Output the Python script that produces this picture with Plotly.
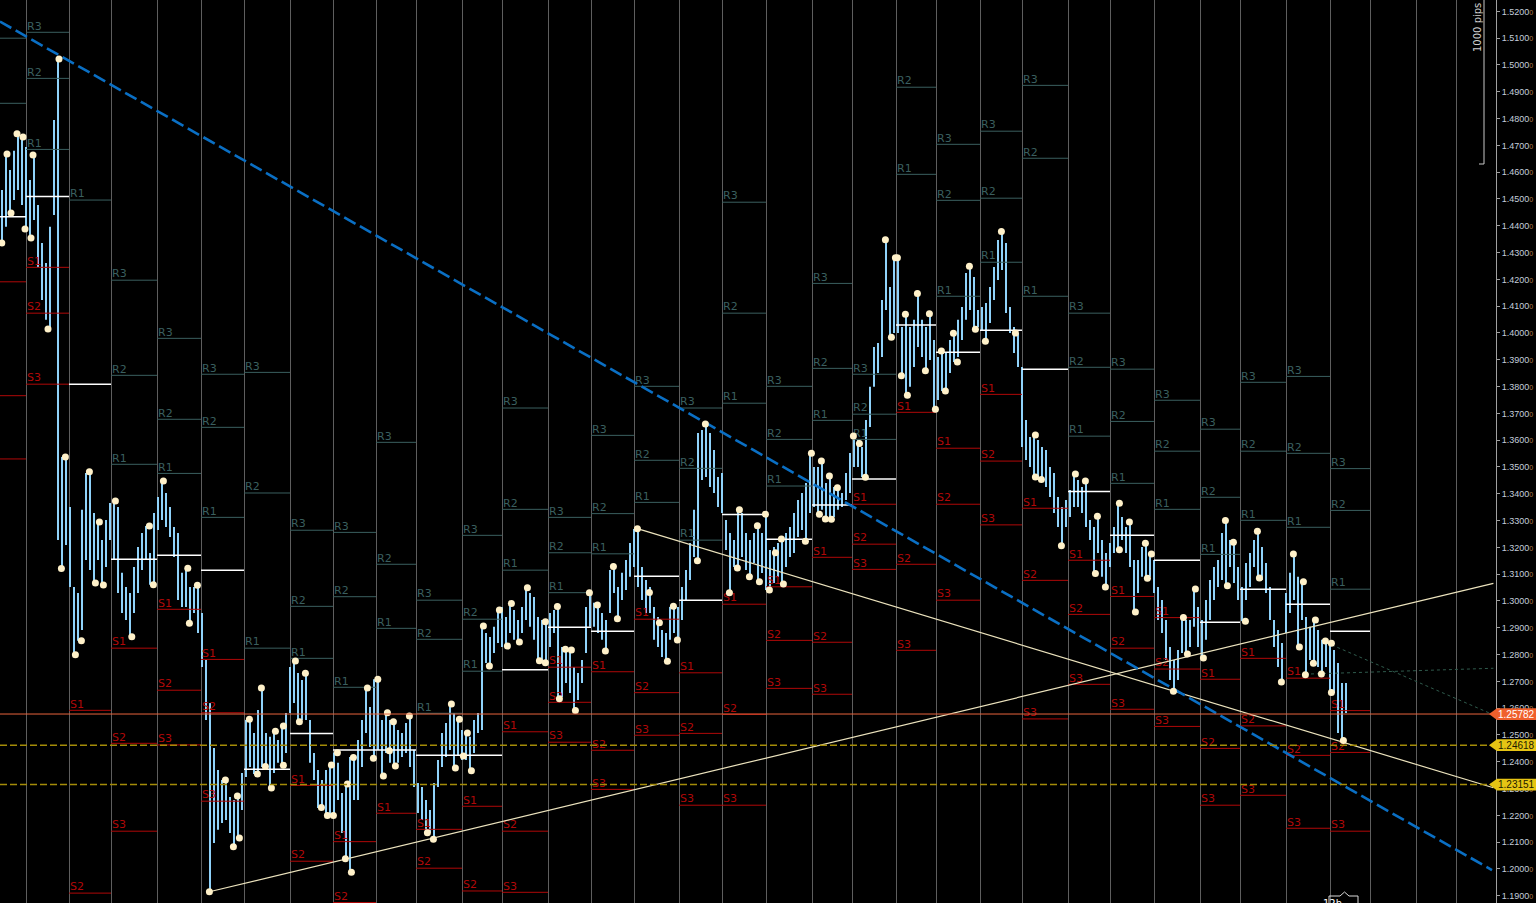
import plotly.graph_objects as go

# two-hour bars: high and low, read left to right
bar_high = [
    1.4534, 1.4668, 1.4608, 1.4680, 1.4743, 1.4731, 1.4694, 1.4571, 1.4664, 1.4478,
    1.4336, 1.4261, 1.4396, 1.4795, 1.5022, 1.3537, 1.3537, 1.3351, 1.3052, 1.3030,
    1.3340, 1.3478, 1.3482, 1.3328, 1.3302, 1.3228, 1.3302, 1.3366, 1.3373, 1.3351,
    1.3105, 1.3052, 1.3030, 1.3127, 1.3201, 1.3254, 1.3280, 1.3179, 1.3328, 1.3388,
    1.3448, 1.3403, 1.3351, 1.3276, 1.3254, 1.3105, 1.3123, 1.3052, 1.3052, 1.3060,
    1.2955, 1.2780, 1.2619, 1.2451, 1.2369, 1.2332, 1.2332, 1.2269, 1.2257, 1.2272,
    1.2358, 1.2556, 1.2560, 1.2507, 1.2593, 1.2675, 1.2507, 1.2493, 1.2515, 1.2481,
    1.2534, 1.2582, 1.2754, 1.2776, 1.2731, 1.2705, 1.2731, 1.2556, 1.2433, 1.2369,
    1.2332, 1.2369, 1.2388, 1.2434, 1.2396, 1.2284, 1.2317, 1.2418, 1.2418, 1.2481,
    1.2556, 1.2675, 1.2604, 1.2708, 1.2708, 1.2556, 1.2582, 1.2556, 1.2549, 1.2519,
    1.2507, 1.2545, 1.2571, 1.2444, 1.2321, 1.2306, 1.2257, 1.2220, 1.2321, 1.2407,
    1.2507, 1.2545, 1.2616, 1.2582, 1.2560, 1.2519, 1.2507, 1.2493, 1.2556, 1.2582,
    1.2907, 1.2881, 1.2866, 1.2904, 1.2966, 1.2978, 1.2940, 1.2993, 1.2966, 1.2929,
    1.2978, 1.3049, 1.3030, 1.3015, 1.2940, 1.2929, 1.2922, 1.2955, 1.2966, 1.2978,
    1.2828, 1.2821, 1.2817, 1.2754, 1.2731, 1.2780, 1.2978, 1.3030, 1.2993, 1.2985,
    1.2955, 1.2929, 1.3116, 1.3127, 1.3052, 1.3105, 1.3153, 1.3216, 1.3269, 1.3269,
    1.3127, 1.3078, 1.3052, 1.2978, 1.2940, 1.2892, 1.2881, 1.2978, 1.2981, 1.2978,
    1.3052, 1.3116, 1.3216, 1.3340, 1.3627, 1.3638, 1.3660, 1.3627, 1.3563, 1.3463,
    1.3478, 1.3302, 1.3254, 1.3228, 1.3340, 1.3328, 1.3254, 1.3228, 1.3254, 1.3280,
    1.3254, 1.3325, 1.3190, 1.3201, 1.3216, 1.3231, 1.3254, 1.3276, 1.3328, 1.3377,
    1.3403, 1.3440, 1.3552, 1.3500, 1.3500, 1.3522, 1.3440, 1.3466, 1.3425, 1.3422,
    1.3403, 1.3478, 1.3552, 1.3616, 1.3601, 1.3575, 1.3675, 1.3799, 1.3948, 1.3963,
    1.4123, 1.4347, 1.4172, 1.4280, 1.4280, 1.4022, 1.4071, 1.4022, 1.4049, 1.4146,
    1.4049, 1.4022, 1.4071, 1.3974, 1.3910, 1.3933, 1.3925, 1.3974, 1.4000, 1.4049,
    1.4097, 1.4224, 1.4250, 1.4209, 1.4086, 1.4097, 1.4112, 1.4172, 1.4246, 1.4347,
    1.4381, 1.4336, 1.4097, 1.4022, 1.4000, 1.3873, 1.3675, 1.3612, 1.3619, 1.3601,
    1.3575, 1.3563, 1.3500, 1.3478, 1.3388, 1.3351, 1.3377, 1.3414, 1.3474, 1.3451,
    1.3425, 1.3448, 1.3302, 1.3276, 1.3317, 1.3228, 1.3179, 1.3216, 1.3276, 1.3366,
    1.3313, 1.3276, 1.3295, 1.3153, 1.3153, 1.3201, 1.3216, 1.3175, 1.3153, 1.3052,
    1.3004, 1.2929, 1.2828, 1.2780, 1.2817, 1.2937, 1.2929, 1.2929, 1.3045, 1.2978,
    1.2929, 1.3004, 1.3078, 1.3127, 1.3153, 1.3254, 1.3299, 1.3228, 1.3220, 1.3127,
    1.3052, 1.3142, 1.3179, 1.3228, 1.3261, 1.3201, 1.3142, 1.3052, 1.2929, 1.2892,
    1.2843, 1.3030, 1.3105, 1.3175, 1.3090, 1.3071, 1.2940, 1.2904, 1.2929, 1.2892,
    1.2855, 1.2851, 1.2843, 1.2817, 1.2769, 1.2694, 1.2694,
]
bar_low = [
    1.4336, 1.4396, 1.4448, 1.4496, 1.4534, 1.4478, 1.4388, 1.4354, 1.4422, 1.4246,
    1.4123, 1.4049, 1.4015, 1.4440, 1.3228, 1.3121, 1.3209, 1.3052, 1.2799, 1.2852,
    1.2892, 1.3153, 1.3116, 1.3067, 1.3153, 1.3060, 1.3127, 1.3228, 1.3153, 1.3030,
    1.2955, 1.2929, 1.2867, 1.2955, 1.3030, 1.3116, 1.3153, 1.3061, 1.3060, 1.3265,
    1.3302, 1.3276, 1.3239, 1.3164, 1.3004, 1.2978, 1.2978, 1.2917, 1.2955, 1.2881,
    1.2754, 1.2556, 1.1915, 1.2097, 1.2146, 1.2172, 1.2183, 1.2134, 1.2083, 1.2116,
    1.2220, 1.2343, 1.2381, 1.2354, 1.2354, 1.2381, 1.2381, 1.2302, 1.2358, 1.2396,
    1.2388, 1.2433, 1.2582, 1.2619, 1.2549, 1.2556, 1.2556, 1.2396, 1.2332, 1.2228,
    1.2220, 1.2201, 1.2201, 1.2199, 1.2257, 1.2134, 1.2037, 1.1989, 1.2257, 1.2257,
    1.2381, 1.2507, 1.2455, 1.2414, 1.2444, 1.2347, 1.2433, 1.2396, 1.2384, 1.2396,
    1.2418, 1.2433, 1.2381, 1.2306, 1.2209, 1.2183, 1.2135, 1.2135, 1.2112, 1.2306,
    1.2381, 1.2418, 1.2444, 1.2377, 1.2422, 1.2407, 1.2407, 1.2366, 1.2433, 1.2507,
    1.2519, 1.2769, 1.2754, 1.2806, 1.2843, 1.2828, 1.2828, 1.2881, 1.2855, 1.2847,
    1.2881, 1.2929, 1.2904, 1.2855, 1.2776, 1.2769, 1.2769, 1.2828, 1.2881, 1.2634,
    1.2642, 1.2694, 1.2657, 1.2590, 1.2631, 1.2694, 1.2806, 1.2904, 1.2904, 1.2881,
    1.2855, 1.2813, 1.2955, 1.3030, 1.2933, 1.3004, 1.3041, 1.3090, 1.3127, 1.3052,
    1.3004, 1.2955, 1.2955, 1.2855, 1.2828, 1.2791, 1.2776, 1.2855, 1.2881, 1.2855,
    1.2929, 1.3004, 1.3078, 1.3164, 1.3149, 1.3451, 1.3463, 1.3425, 1.3403, 1.3351,
    1.3328, 1.3190, 1.3030, 1.3127, 1.3123, 1.3164, 1.3116, 1.3090, 1.3142, 1.3071,
    1.3104, 1.3041, 1.3041, 1.3067, 1.3090, 1.3063, 1.3127, 1.3164, 1.3179, 1.3239,
    1.3265, 1.3224, 1.3328, 1.3351, 1.3325, 1.3340, 1.3306, 1.3306, 1.3313, 1.3340,
    1.3351, 1.3377, 1.3403, 1.3500, 1.3500, 1.3463, 1.3463, 1.3649, 1.3799, 1.3851,
    1.3910, 1.4086, 1.3985, 1.4000, 1.4000, 1.3840, 1.3769, 1.3799, 1.3873, 1.3948,
    1.3910, 1.3858, 1.3899, 1.3716, 1.3750, 1.3784, 1.3784, 1.3851, 1.3892, 1.3910,
    1.3974, 1.4049, 1.4086, 1.4015, 1.4022, 1.4011, 1.3970, 1.4037, 1.4123, 1.4198,
    1.4235, 1.4075, 1.4000, 1.3925, 1.3873, 1.3575, 1.3526, 1.3500, 1.3463, 1.3451,
    1.3451, 1.3425, 1.3388, 1.3328, 1.3276, 1.3205, 1.3276, 1.3313, 1.3351, 1.3351,
    1.3328, 1.3276, 1.3228, 1.3104, 1.3179, 1.3090, 1.3052, 1.3127, 1.3179, 1.3190,
    1.3228, 1.3179, 1.3127, 1.2959, 1.3030, 1.3090, 1.3086, 1.3090, 1.3030, 1.2929,
    1.2881, 1.2780, 1.2705, 1.2664, 1.2705, 1.2806, 1.2802, 1.2828, 1.2904, 1.2828,
    1.2787, 1.2855, 1.2929, 1.3004, 1.3052, 1.3078, 1.3056, 1.3127, 1.3067, 1.3004,
    1.2925, 1.3004, 1.3052, 1.3127, 1.3086, 1.3078, 1.3030, 1.2929, 1.2828, 1.2754,
    1.2698, 1.2881, 1.2955, 1.3004, 1.2828, 1.2929, 1.2724, 1.2780, 1.2769, 1.2754,
    1.2728, 1.2754, 1.2660, 1.2657, 1.2507, 1.2478, 1.2582,
]
bar_hour = [1 + 2 * i for i in range(len(bar_high))]

# swing highs / lows marked with dots
swing_hour = [
    0.9, 3.5, 5.5, 8.5, 11.5, 12.5, 15.5, 16.5, 24.0, 29.5,
    30.7, 32.7, 37.7, 40.7, 44.7, 47.7, 49.7, 51.7, 57.7, 65.9,
    74.7, 76.7, 81.7, 93.9, 94.7, 98.7, 104.7, 112.7, 116.7, 118.7,
    119.7, 124.7, 128.7, 130.7, 132.7, 135.7, 137.7, 141.7, 141.7, 147.7,
    149.7, 152.7, 160.7, 163.7, 165.7, 166.7, 168.7, 172.7, 173.7, 175.7,
    176.7, 183.7, 186.7, 188.9, 191.7, 193.7, 194.7, 196.7, 197.7, 204.7,
    213.7, 216.7, 225.7, 227.7, 229.7, 231.7, 233.7, 235.7, 241.7, 244.7,
    249.7, 253.7, 255.7, 259.7, 263.7, 269.7, 272.7, 272.7, 278.7, 279.7,
    282.7, 285.7, 287.7, 294.7, 298.7, 302.7, 306.7, 308.7, 318.7, 324.7,
    329.7, 333.7, 336.7, 338.7, 348.7, 352.7, 364.7, 368.7, 369.7, 374.7,
    378.7, 379.7, 382.7, 384.7, 387.7, 390.7, 391.7, 402.7, 405.7, 409.7,
    410.7, 412.7, 414.7, 415.7, 418.7, 426.7, 429.7, 432.7, 442.7, 445.7,
    447.7, 448.7, 450.7, 452.7, 453.7, 458.7, 462.7, 464.7, 467.7, 470.7,
    472.7, 476.7, 478.7, 484.7, 487.7, 492.7, 500.7, 507.7, 517.7, 517.7,
    520.7, 530.7, 537.7, 542.7, 547.7, 548.7, 552.7, 559.7, 559.7, 564.7,
    567.7, 572.7, 573.7, 575.7, 586.7, 591.7, 593.7, 597.7, 601.7, 612.7,
    613.7, 616.7, 622.7, 628.7, 629.7, 640.7, 646.7, 649.7, 651.7, 652.7,
    656.7, 657.7, 660.7, 662.7, 665.7, 665.7, 671.7,
]
swing_price = [
    1.4336, 1.4668, 1.4448, 1.4743, 1.4731, 1.4388, 1.4354, 1.4664, 1.4015, 1.5022,
    1.3121, 1.3537, 1.2799, 1.2852, 1.3482, 1.3067, 1.3295, 1.3060, 1.3373, 1.2867,
    1.3280, 1.3061, 1.3448, 1.3122, 1.2917, 1.3059, 1.1915, 1.2332, 1.2083, 1.2272,
    1.2116, 1.2559, 1.2354, 1.2675, 1.2382, 1.2302, 1.2514, 1.2534, 1.2387, 1.2776,
    1.2549, 1.2730, 1.2229, 1.2200, 1.2388, 1.2200, 1.2434, 1.2038, 1.2317, 1.1988,
    1.2416, 1.2675, 1.2413, 1.2708, 1.2347, 1.2583, 1.2441, 1.2549, 1.2384, 1.2571,
    1.2135, 1.2111, 1.2616, 1.2377, 1.2559, 1.2422, 1.2507, 1.2367, 1.2907, 1.2757,
    1.2966, 1.2832, 1.2991, 1.2847, 1.3049, 1.2777, 1.2923, 1.2770, 1.2979, 1.2635,
    1.2820, 1.2817, 1.2591, 1.3031, 1.2985, 1.2813, 1.3129, 1.2934, 1.3270, 1.3032,
    1.2919, 1.2775, 1.2980, 1.2854, 1.3150, 1.3660, 1.3031, 1.3123, 1.3340, 1.3090,
    1.3281, 1.3072, 1.3324, 1.3041, 1.3180, 1.3231, 1.3063, 1.3223, 1.3551, 1.3324,
    1.3522, 1.3306, 1.3466, 1.3305, 1.3423, 1.3616, 1.3588, 1.3462, 1.4348, 1.3984,
    1.4281, 1.4281, 1.3840, 1.4070, 1.3768, 1.4147, 1.3859, 1.4072, 1.3715, 1.3933,
    1.3784, 1.3999, 1.3892, 1.4249, 1.4014, 1.3969, 1.4379, 1.4000, 1.3619, 1.3463,
    1.3453, 1.3206, 1.3474, 1.3448, 1.3103, 1.3316, 1.3052, 1.3365, 1.3191, 1.3295,
    1.2959, 1.3215, 1.3085, 1.3175, 1.2663, 1.2938, 1.2802, 1.3045, 1.2787, 1.3300,
    1.3057, 1.3219, 1.2924, 1.3260, 1.3086, 1.2698, 1.3175, 1.2828, 1.3072, 1.2725,
    1.2768, 1.2929, 1.2728, 1.2851, 1.2842, 1.2659, 1.2479,
]

# session boundaries (hours) and the pivot levels of each session
session_start = [-9, 13, 34.5, 55.5, 78.5, 100.5, 122, 145, 166.5, 188, 208, 231,
                 251, 274, 295.5, 317, 339.5, 361, 383, 406, 426, 448, 468, 490,
                 511, 534, 555, 577, 600, 620, 643, 665, 685, 708, 728]
r3 = [None, 1.5122, None, 1.4197, 1.3980, 1.3846, 1.3853, 1.3264, 1.3256, 1.3592,
      1.3003, 1.3245, 1.3720, 1.3312, 1.3618, 1.3801, 1.3720, 1.4488, 1.3801, 1.4185,
      1.3846, None, 1.4704, 1.4753, 1.4924, 1.4074, 1.3865, 1.3749, 1.3641, 1.3816,
      1.3838, 1.3494]
r2 = [1.5100, 1.4950, None, 1.3842, 1.3678, 1.3648, 1.3403, 1.2980, 1.3016, 1.3137,
      1.2857, 1.2932, 1.3342, 1.3180, 1.3326, 1.3525, 1.3495, 1.4074, 1.3603, 1.3868,
      1.3697, 1.4917, 1.4495, 1.4503, 1.4652, 1.3872, 1.3670, 1.3559, 1.3387, 1.3559,
      1.3551, 1.3338]
r1 = [1.4857, 1.4685, 1.4496, 1.3510, 1.3476, 1.3312, 1.2824, 1.2786, 1.2678, 1.2898,
      1.2581, 1.2738, 1.3115, 1.3031, 1.3176, 1.3368, 1.3227, 1.3738, 1.3429, 1.3674,
      1.3603, 1.4592, 1.4137, 1.4264, 1.4137, 1.3615, 1.3439, 1.3342, 1.3174, 1.3301,
      1.3275, 1.3044]
pivot = [1.4434, 1.4509, 1.3809, 1.3156, 1.3171, 1.3115, 1.2372, 1.2506, 1.2444, 1.2444,
         1.2424, 1.2424, 1.2743, 1.2902, 1.2887, 1.3092, 1.3003, 1.3323, 1.3230, 1.3358,
         1.3455, 1.4030, 1.3928, 1.4010, 1.3865, 1.3409, 1.3245, 1.3152, 1.2921, 1.3044,
         1.2988, 1.2887]
s1 = [1.4191, 1.4245, 1.2592, 1.2824, 1.2969, 1.2782, None, 1.2312, 1.2102, 1.2208,
      1.2148, 1.2234, 1.2512, 1.2753, 1.2736, 1.2932, 1.2732, 1.2988, 1.3053, 1.3163,
      1.3361, 1.3704, 1.3570, 1.3771, 1.3346, 1.3152, 1.3017, 1.2938, 1.2708, 1.2786,
      1.2712, 1.2591]
s2 = [1.3766, 1.4074, 1.1910, 1.2469, 1.2667, 1.2583, None, 1.2029, 1.1875, None,
      1.2003, 1.1918, 1.2141, 1.2622, 1.2443, 1.2658, 1.2506, 1.2577, 1.2853, 1.2846,
      1.3212, 1.3137, 1.3361, 1.3522, 1.3077, 1.2950, 1.2824, 1.2746, 1.2450, 1.2534,
      1.2424, 1.2435]
s3 = [1.3530, 1.3809, None, 1.2141, 1.2463, 1.2253, None, None, None, None,
      None, None, 1.1913, 1.2473, 1.2297, 1.2499, 1.2238, 1.2238, 1.2674, 1.2652,
      1.3118, 1.2816, 1.3003, 1.3284, 1.2560, 1.2689, 1.2596, 1.2532, 1.2238, 1.2275,
      1.2152, 1.2141]

# hand drawn trend lines
down_hour, down_price = [0, 746], [1.5162, 1.1996]
rise_hour, rise_price = [104.7, 746.7], [1.1915, 1.3066]
fall_hour, fall_price = [318.7, 746.7], [1.3270, 1.2303]
proj_a_hour, proj_a_price = [665.9, 745.0], [1.2836, 1.2581]
proj_b_hour, proj_b_price = [652.5, 746.7], [1.2727, 1.2749]

last_price = 1.25782
marked_levels = [1.24618, 1.23151]

PLOT_W = 1496  # pixel width of the plot area
R_COL = '#3a5f5f'
S_COL = '#b00808'

fig = go.Figure()


def segments(values):
    xs, ys = [], []
    for k, v in enumerate(values):
        if v is None:
            continue
        xs += [session_start[k], session_start[k + 1], None]
        ys += [v, v, None]
    return xs, ys


# price bars
bx, by = [], []
for h, hi, lo in zip(bar_hour, bar_high, bar_low):
    bx += [h, h, None]
    by += [lo, hi, None]
fig.add_trace(go.Scatter(x=bx, y=by, mode='lines', hoverinfo='skip',
                         line=dict(color='#8fd2fa', width=2)))

# pivot levels
levels = [('R3', r3, R_COL), ('R2', r2, R_COL), ('R1', r1, R_COL),
          ('', pivot, '#ffffff'),
          ('S1', s1, S_COL), ('S2', s2, S_COL), ('S3', s3, S_COL)]
for name, values, col in levels:
    xs, ys = segments(values)
    fig.add_trace(go.Scatter(x=xs, y=ys, mode='lines', hoverinfo='skip',
                             line=dict(color=col, width=1.5 if not name else 1)))
    if not name:
        continue
    lx, ly = [], []
    for k, v in enumerate(values):
        if v is None or session_start[k] < 0:
            continue
        lx.append(session_start[k] + 0.5)
        ly.append(v)
    fig.add_trace(go.Scatter(x=lx, y=ly, mode='text', text=[name] * len(lx),
                             textposition='top right', hoverinfo='skip',
                             textfont=dict(family='DejaVu Sans', size=11, color=col)))

# trend lines
fig.add_trace(go.Scatter(x=rise_hour, y=rise_price, mode='lines', hoverinfo='skip',
                         line=dict(color='#ece3bd', width=1.2)))
fig.add_trace(go.Scatter(x=fall_hour, y=fall_price, mode='lines', hoverinfo='skip',
                         line=dict(color='#ece3bd', width=1.2)))
fig.add_trace(go.Scatter(x=down_hour, y=down_price, mode='lines', hoverinfo='skip',
                         line=dict(color='#0a6fc4', width=2.6, dash='13px,5px')))
for hx, py in [(proj_a_hour, proj_a_price), (proj_b_hour, proj_b_price)]:
    fig.add_trace(go.Scatter(x=hx, y=py, mode='lines', hoverinfo='skip',
                             line=dict(color='#2f5a4c', width=1, dash='dot')))

# swing dots
fig.add_trace(go.Scatter(x=swing_hour, y=swing_price, mode='markers', hoverinfo='skip',
                         marker=dict(color='#fff1c9', size=7, line=dict(width=0))))

shapes = [dict(type='line', xref='paper', yref='y', x0=0, x1=1,
               y0=last_price, y1=last_price, line=dict(color='#e8643c', width=1))]
for lv in marked_levels:
    shapes.append(dict(type='line', xref='paper', yref='y', x0=0, x1=1, y0=lv, y1=lv,
                       line=dict(color='#a48c08', width=1.4, dash='7px,3px')))

annotations = []
half = 0.0022
tags = [(last_price, '#f0602c', '#ffffff')] + [(lv, '#e6c414', '#1c1a00') for lv in marked_levels]
for lv, bg, fg in tags:
    tip = 1489 / PLOT_W
    box = 1497 / PLOT_W
    shapes.append(dict(type='path', xref='paper', yref='y', fillcolor=bg, line=dict(width=0),
                       path=f'M {tip},{lv} L {box},{lv + half} L 1.04,{lv + half} '
                            f'L 1.04,{lv - half} L {box},{lv - half} Z'))
    annotations.append(dict(xref='paper', yref='y', x=1516 / PLOT_W, y=lv,
                            text=f'{lv:.5f}', showarrow=False, xanchor='center',
                            yanchor='middle',
                            font=dict(family='Liberation Sans', size=10, color=fg)))

# "1000 pips" ruler
rx = 1484 / PLOT_W
ry = 1 - 164 / 903
shapes.append(dict(type='line', xref='paper', yref='paper', x0=rx, x1=rx, y0=1, y1=ry,
                   line=dict(color='#c8c8c8', width=1)))
shapes.append(dict(type='line', xref='paper', yref='paper', x0=1479 / PLOT_W, x1=rx,
                   y0=ry, y1=ry, line=dict(color='#c8c8c8', width=1)))
annotations.append(dict(xref='paper', yref='paper', x=1477 / PLOT_W, y=1 - 28 / 903,
                        xanchor='center', yanchor='middle',
                        text='1000 pips', textangle=-90, showarrow=False,
                        font=dict(family='DejaVu Sans', size=10, color='#d0d0d0')))

# period marker at the bottom
pts = [(1329, 903), (1329, 896), (1340, 896), (1344.5, 892), (1349, 896), (1358, 896), (1358, 903)]
path = 'M ' + ' L '.join(f'{px / PLOT_W},{1 - py / 903}' for px, py in pts)
shapes.append(dict(type='path', xref='paper', yref='paper', path=path,
                   line=dict(color='#d8d8d8', width=1)))
annotations.append(dict(xref='paper', yref='paper', x=1343.5 / PLOT_W, y=1 - 896 / 903,
                        yanchor='top', text='12h', showarrow=False,
                        font=dict(family='DejaVu Sans', size=10, color='#ffffff')))

fig.update_layout(
    width=1536, height=903,
    margin=dict(l=0, r=1536 - PLOT_W, t=0, b=0),
    plot_bgcolor='#000000', paper_bgcolor='#000000',
    showlegend=False, hovermode=False,
    shapes=shapes, annotations=annotations,
    xaxis=dict(range=[0, PLOT_W / 2], tickvals=session_start[1:], showticklabels=False,
               ticks='', showgrid=True, gridcolor='#5e5e5e', gridwidth=1,
               zeroline=False, showline=False),
    yaxis=dict(side='right', range=[1.18731, 1.52425], tick0=1.19, dtick=0.01,
               tickformat='.4f',
               ticksuffix="<span style='font-size:7px;color:#b07a48'>0</span>",
               ticks='outside', ticklen=3, tickcolor='#a0a0a0',
               tickfont=dict(family='Liberation Sans', size=9, color='#c4cedb'),
               showgrid=False, zeroline=False, showline=True, linecolor='#a0a0a0',
               linewidth=1),
)

fig.write_html("out.html", config={'displayModeBar': False},
               post_script="document.body.style.margin='0';document.body.style.overflow='hidden';")
